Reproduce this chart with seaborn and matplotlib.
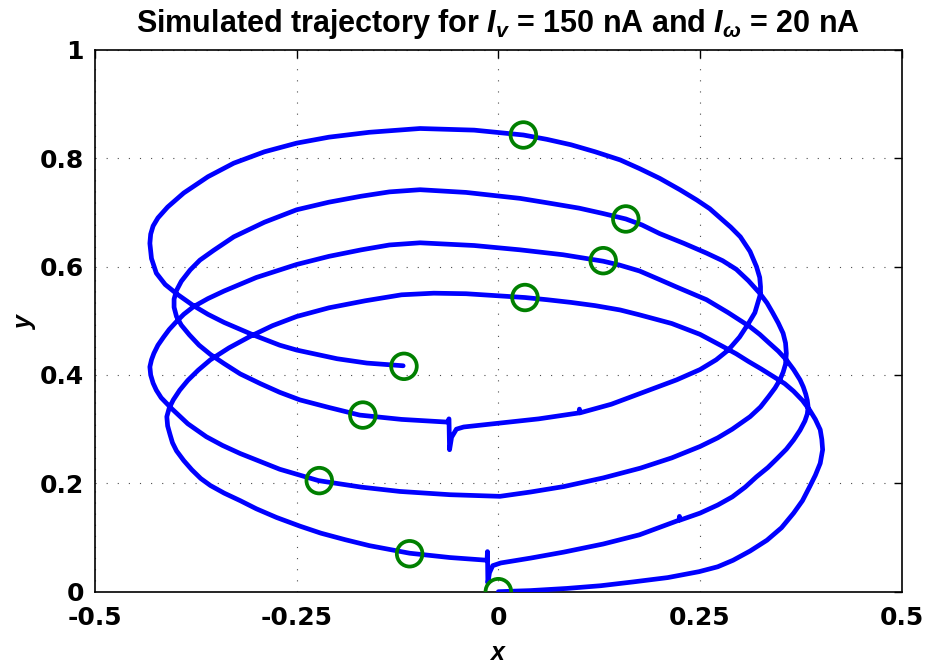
import numpy as np
import pandas as pd
import matplotlib
matplotlib.use("Agg")
import matplotlib.pyplot as plt
import seaborn as sns

# Robot trajectory (x, y) in metres, in time order
traj_x = [
    # first turn
    0.000, 0.040, 0.085, 0.127, 0.167, 0.210, 0.249, 0.272, 0.291, 0.312,
    0.333, 0.351, 0.366, 0.377, 0.386, 0.393, 0.399, 0.402, 0.401, 0.399,
    0.393, 0.386, 0.377, 0.366, 0.355, 0.341, 0.326, 0.310, 0.295, 0.279,
    0.250, 0.215, 0.175, 0.151, 0.120, 0.090, 0.060, 0.033, 0.002, -0.040,
    -0.080, -0.120, -0.165, -0.210, -0.250, -0.280, -0.308, -0.334, -0.357, -0.372,
    -0.385, -0.395, -0.403, -0.408, -0.411, -0.410, -0.407, -0.404, -0.399, -0.390,
    -0.380, -0.369, -0.357, -0.340, -0.320, -0.300, -0.275, -0.246, -0.220, -0.190,
    -0.160, -0.110, -0.060, -0.014, -0.0135, -0.013, -0.011, -0.007, 0.003,
    # second turn
    0.040, 0.081, 0.130, 0.175, 0.224, 0.2245, 0.225, 0.250, 0.272, 0.290,
    0.306, 0.320, 0.334, 0.345, 0.357, 0.366, 0.374, 0.380, 0.383, 0.384,
    0.383, 0.381, 0.378, 0.374, 0.366, 0.357, 0.347, 0.335, 0.324, 0.312,
    0.285, 0.258, 0.220, 0.200, 0.175, 0.150, 0.130, 0.105, 0.080, 0.027,
    -0.030, -0.097, -0.135, -0.170, -0.210, -0.250, -0.300, -0.340, -0.360, -0.378,
    -0.390, -0.400, -0.408, -0.415, -0.422, -0.427, -0.430, -0.432, -0.431, -0.428,
    -0.424, -0.418, -0.405, -0.395, -0.385, -0.362, -0.342, -0.320, -0.271, -0.223,
    -0.170, -0.122, -0.060, 0.002,
    # third turn
    0.040, 0.081, 0.130, 0.176, 0.215, 0.250, 0.272, 0.290, 0.312, 0.325,
    0.335, 0.343, 0.349, 0.353, 0.356, 0.357, 0.356, 0.353, 0.347, 0.340,
    0.333, 0.324, 0.310, 0.295, 0.278, 0.258, 0.230, 0.200, 0.178, 0.158,
    0.130, 0.100, 0.060, 0.027, -0.040, -0.097, -0.135, -0.170, -0.210, -0.250,
    -0.290, -0.328, -0.353, -0.370, -0.382, -0.393, -0.399, -0.402, -0.402, -0.399,
    -0.393, -0.383, -0.371, -0.357, -0.340, -0.320, -0.295, -0.271, -0.246, -0.210,
    -0.172, -0.120, -0.063, -0.0612, -0.0605, -0.058, -0.052, -0.043,
    # fourth turn
    0.000, 0.050, 0.100, 0.1005, 0.101, 0.140, 0.176, 0.221, 0.250, 0.270,
    0.285, 0.299, 0.310, 0.318, 0.322, 0.325, 0.325, 0.324, 0.320, 0.312,
    0.300, 0.288, 0.275, 0.262, 0.246, 0.225, 0.200, 0.175, 0.151, 0.120,
    0.090, 0.060, 0.031, -0.030, -0.097, -0.160, -0.210, -0.250, -0.290, -0.328,
    -0.360, -0.390, -0.410, -0.422, -0.428, -0.431, -0.432, -0.430, -0.424, -0.413,
    -0.398, -0.378, -0.360, -0.340, -0.304, -0.271, -0.250, -0.200, -0.163, -0.118,
]
traj_y = [
    # first turn
    0.000, 0.002, 0.006, 0.011, 0.018, 0.026, 0.037, 0.046, 0.058, 0.075,
    0.095, 0.118, 0.145, 0.168, 0.194, 0.215, 0.237, 0.262, 0.281, 0.299,
    0.318, 0.335, 0.353, 0.370, 0.384, 0.397, 0.411, 0.425, 0.439, 0.452,
    0.475, 0.495, 0.511, 0.520, 0.528, 0.534, 0.539, 0.543, 0.546, 0.550,
    0.551, 0.548, 0.537, 0.524, 0.508, 0.491, 0.471, 0.450, 0.428, 0.409,
    0.390, 0.372, 0.354, 0.339, 0.323, 0.306, 0.290, 0.275, 0.260, 0.242,
    0.225, 0.209, 0.196, 0.182, 0.168, 0.153, 0.137, 0.121, 0.108, 0.096,
    0.085, 0.071, 0.063, 0.058, 0.074, 0.016, 0.035, 0.048, 0.053,
    # second turn
    0.062, 0.073, 0.088, 0.105, 0.132, 0.139, 0.132, 0.145, 0.160, 0.175,
    0.193, 0.212, 0.229, 0.245, 0.263, 0.280, 0.298, 0.315, 0.328, 0.341,
    0.353, 0.365, 0.378, 0.391, 0.410, 0.428, 0.444, 0.460, 0.475, 0.489,
    0.515, 0.539, 0.563, 0.576, 0.592, 0.603, 0.610, 0.616, 0.622, 0.631,
    0.639, 0.644, 0.640, 0.631, 0.619, 0.604, 0.580, 0.555, 0.541, 0.526,
    0.512, 0.497, 0.484, 0.470, 0.455, 0.440, 0.428, 0.415, 0.400, 0.385,
    0.372, 0.358, 0.338, 0.324, 0.310, 0.286, 0.270, 0.255, 0.226, 0.205,
    0.193, 0.185, 0.179, 0.176,
    # third turn
    0.184, 0.194, 0.210, 0.228, 0.247, 0.268, 0.284, 0.300, 0.323, 0.341,
    0.360, 0.376, 0.391, 0.405, 0.420, 0.440, 0.459, 0.477, 0.496, 0.515,
    0.533, 0.551, 0.574, 0.595, 0.611, 0.625, 0.643, 0.661, 0.677, 0.688,
    0.698, 0.708, 0.718, 0.726, 0.737, 0.742, 0.738, 0.730, 0.719, 0.705,
    0.682, 0.655, 0.630, 0.612, 0.594, 0.573, 0.556, 0.540, 0.525, 0.508,
    0.492, 0.474, 0.455, 0.438, 0.421, 0.402, 0.384, 0.368, 0.354, 0.340,
    0.326, 0.318, 0.313, 0.319, 0.262, 0.285, 0.300, 0.304,
    # fourth turn
    0.311, 0.319, 0.330, 0.337, 0.330, 0.346, 0.366, 0.391, 0.410, 0.428,
    0.446, 0.470, 0.495, 0.515, 0.535, 0.550, 0.563, 0.580, 0.600, 0.628,
    0.655, 0.673, 0.690, 0.707, 0.723, 0.742, 0.763, 0.781, 0.797, 0.812,
    0.825, 0.835, 0.843, 0.852, 0.855, 0.848, 0.839, 0.828, 0.812, 0.791,
    0.766, 0.736, 0.710, 0.690, 0.675, 0.660, 0.643, 0.615, 0.588, 0.567,
    0.549, 0.528, 0.512, 0.497, 0.474, 0.455, 0.446, 0.430, 0.422, 0.417,
]

# Positions sampled at regular time intervals
mark_x = [0.000, 0.033, -0.110, 0.130, -0.222, 0.158, -0.168, 0.031, -0.117]
mark_y = [0.000, 0.543, 0.070, 0.611, 0.205, 0.688, 0.326, 0.843, 0.416]

x_ticks = [-0.5, -0.25, 0, 0.25, 0.5]
x_tick_labels = ["-0.5", "-0.25", "0", "0.25", "0.5"]
y_ticks = [0, 0.2, 0.4, 0.6, 0.8, 1]
y_tick_labels = ["0", "0.2", "0.4", "0.6", "0.8", "1"]

sns.set_style("white")
plt.rcParams["font.family"] = ["DejaVu Sans"]
plt.rcParams["font.weight"] = "bold"
plt.rcParams["text.color"] = "black"
plt.rcParams["axes.labelcolor"] = "black"
plt.rcParams["mathtext.fontset"] = "custom"
plt.rcParams["mathtext.rm"] = "Liberation Sans:bold"
plt.rcParams["mathtext.it"] = "Liberation Sans:italic:bold"
plt.rcParams["mathtext.bf"] = "Liberation Sans:bold"

traj = pd.DataFrame({"x": traj_x, "y": traj_y})
marks = pd.DataFrame({"x": mark_x, "y": mark_y})

fig = plt.figure(figsize=(9.27, 6.66), dpi=100)
ax = fig.add_axes([0.1025, 0.1116, 0.8702, 0.8134])

sns.lineplot(data=traj, x="x", y="y", sort=False, estimator=None,
             color="#0000ff", linewidth=3.4, ax=ax, zorder=3,
             solid_capstyle="round", solid_joinstyle="round")
sns.scatterplot(data=marks, x="x", y="y", marker="o", s=340,
                facecolors="none", edgecolor="#008000", linewidth=2.7,
                ax=ax, zorder=4)

ax.set_xlim(-0.5, 0.5)
ax.set_ylim(0, 1)
ax.set_xticks(x_ticks)
ax.set_xticklabels(x_tick_labels)
ax.set_yticks(y_ticks)
ax.set_yticklabels(y_tick_labels)
ax.tick_params(direction="in", length=6, width=1, top=True, right=True,
               labelsize=18, pad=8, colors="black")
ax.tick_params(axis="x", pad=10)
for lab in ax.get_xticklabels() + ax.get_yticklabels():
    lab.set_fontweight("bold")

ax.grid(True, color="0.3", linewidth=0.8, linestyle=(0, (1, 9)))
for sp in ax.spines.values():
    sp.set_color("black")
    sp.set_linewidth(1.2)

ax.set_xlabel("$x$", fontsize=18, labelpad=8)
ax.set_ylabel("$y$", fontsize=18, labelpad=1)
ax.set_title(r"Simulated trajectory for $I_v$ = 150 nA and $I_\omega$ = 20 nA",
             fontsize=22, fontweight="bold", family="Liberation Sans",
             color="black", pad=13)

fig.savefig("out.png", dpi=100)
